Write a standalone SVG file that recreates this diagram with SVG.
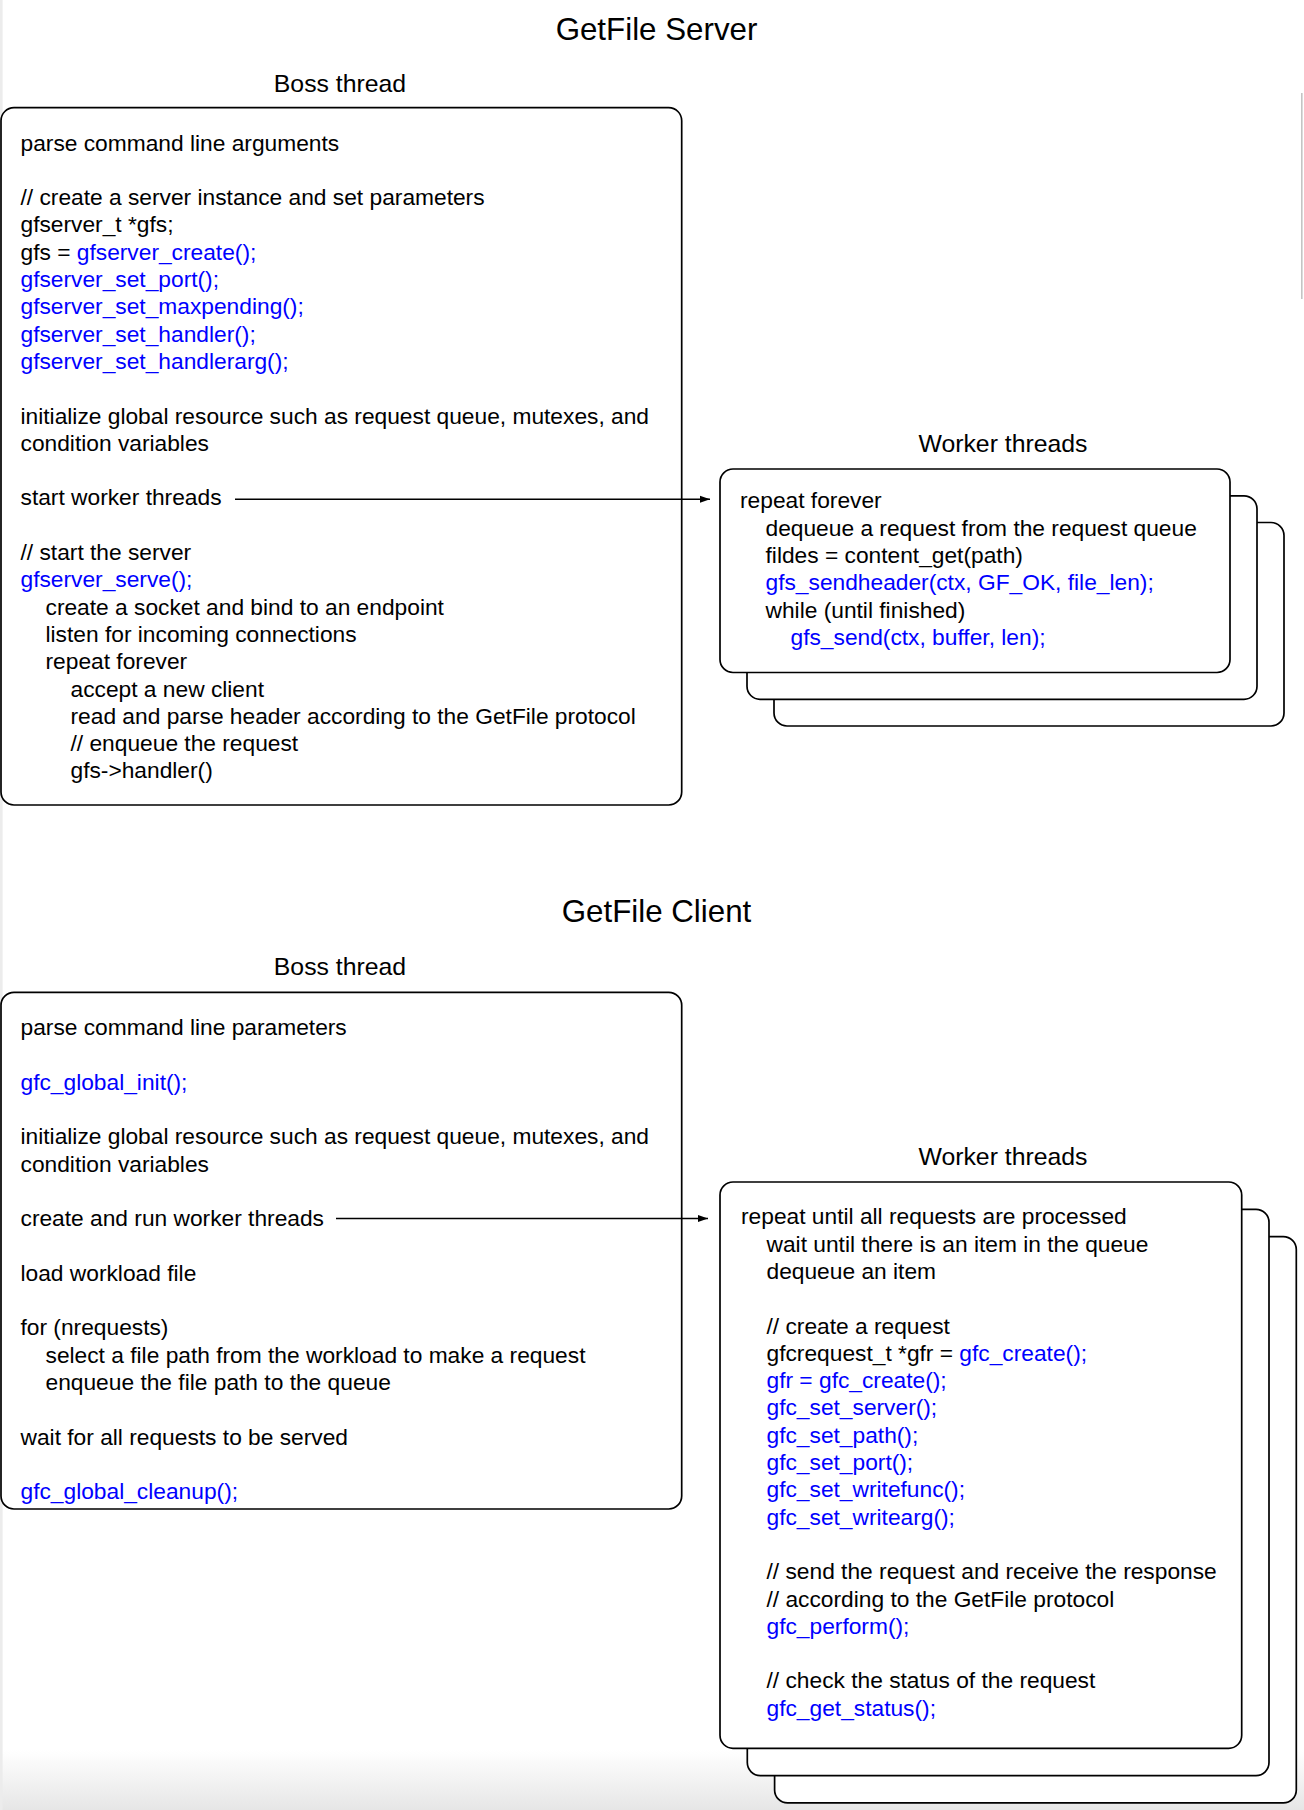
<svg xmlns="http://www.w3.org/2000/svg" width="1304" height="1810" viewBox="0 0 1304 1810">
<style>
text{font-family:"Liberation Sans",Arial,Helvetica,sans-serif;fill:#000}
.b{font-size:22.75px}
.h{font-size:24.8px;text-anchor:middle}
.t{font-size:31.3px;text-anchor:middle}
.k{fill:#0000ff}
.box{fill:#fff;stroke:#000;stroke-width:1.7}
.edge{stroke:#000;stroke-width:1.6;fill:none}
</style>
<defs>
<marker id="arr" markerWidth="10" markerHeight="8" refX="10" refY="4" orient="auto" markerUnits="userSpaceOnUse">
<path d="M0,0.5 L10,4 L0,7.5 Z" fill="#000"/>
</marker>
<linearGradient id="bot" x1="0" y1="0" x2="0" y2="1">
<stop offset="0" stop-color="#ffffff"/>
<stop offset="1" stop-color="#e6e6e6"/>
</linearGradient>
</defs>
<rect x="0" y="0" width="1304" height="1810" fill="#fff"/>
<rect x="0" y="1750" width="1304" height="60" fill="url(#bot)"/>
<rect x="0" y="0" width="2.6" height="1810" fill="#ececec"/>
<rect x="1301" y="93" width="1.6" height="206" fill="#c4c4c4"/>

<g id="server-title"><text class="t" x="656.5" y="40">GetFile Server</text></g>

<g id="server-boss">
<text class="h" x="340" y="91.7">Boss thread</text>
<rect class="box" x="1" y="107.7" width="680.7" height="697.3" rx="13"/>
<text class="b" x="20.5" y="150.5">parse command line arguments</text>
<text class="b" x="20.5" y="205.1">// create a server instance and set parameters</text>
<text class="b" x="20.5" y="232.4">gfserver_t *gfs;</text>
<text class="b" x="20.5" y="259.7">gfs = <tspan class="k">gfserver_create();</tspan></text>
<text class="b k" x="20.5" y="287">gfserver_set_port();</text>
<text class="b k" x="20.5" y="314.3">gfserver_set_maxpending();</text>
<text class="b k" x="20.5" y="341.6">gfserver_set_handler();</text>
<text class="b k" x="20.5" y="368.9">gfserver_set_handlerarg();</text>
<text class="b" x="20.5" y="423.5">initialize global resource such as request queue, mutexes, and</text>
<text class="b" x="20.5" y="450.8">condition variables</text>
<text class="b" x="20.5" y="505.4">start worker threads</text>
<text class="b" x="20.5" y="560">// start the server</text>
<text class="b k" x="20.5" y="587.3">gfserver_serve();</text>
<text class="b" x="45.5" y="614.6">create a socket and bind to an endpoint</text>
<text class="b" x="45.5" y="641.9">listen for incoming connections</text>
<text class="b" x="45.5" y="669.2">repeat forever</text>
<text class="b" x="70.5" y="696.5">accept a new client</text>
<text class="b" x="70.5" y="723.8">read and parse header according to the GetFile protocol</text>
<text class="b" x="70.5" y="751.1">// enqueue the request</text>
<text class="b" x="70.5" y="778.4">gfs-&gt;handler()</text>
</g>

<g id="server-workers">
<text class="h" x="1003" y="451.7">Worker threads</text>
<rect class="box" x="774" y="522.5" width="510" height="203.5" rx="13"/>
<rect class="box" x="747" y="495.8" width="510" height="203.5" rx="13"/>
<rect class="box" x="720" y="469" width="510" height="203.5" rx="13"/>
<text class="b" x="740" y="508.3">repeat forever</text>
<text class="b" x="765.5" y="535.6">dequeue a request from the request queue</text>
<text class="b" x="765.5" y="562.9">fildes = content_get(path)</text>
<text class="b k" x="765.5" y="590.2">gfs_sendheader(ctx, GF_OK, file_len);</text>
<text class="b" x="765.5" y="617.5">while (until finished)</text>
<text class="b k" x="790.5" y="644.8">gfs_send(ctx, buffer, len);</text>
</g>

<g id="client-title"><text class="t" x="656.5" y="922.3">GetFile Client</text></g>

<g id="client-boss">
<text class="h" x="340" y="975">Boss thread</text>
<rect class="box" x="1" y="992.3" width="680.7" height="516.7" rx="13"/>
<text class="b" x="20.5" y="1035">parse command line parameters</text>
<text class="b k" x="20.5" y="1089.6">gfc_global_init();</text>
<text class="b" x="20.5" y="1144.2">initialize global resource such as request queue, mutexes, and</text>
<text class="b" x="20.5" y="1171.5">condition variables</text>
<text class="b" x="20.5" y="1226.1">create and run worker threads</text>
<text class="b" x="20.5" y="1280.7">load workload file</text>
<text class="b" x="20.5" y="1335.3">for (nrequests)</text>
<text class="b" x="45.5" y="1362.6">select a file path from the workload to make a request</text>
<text class="b" x="45.5" y="1389.9">enqueue the file path to the queue</text>
<text class="b" x="20.5" y="1444.5">wait for all requests to be served</text>
<text class="b k" x="20.5" y="1499.1">gfc_global_cleanup();</text>
</g>

<g id="client-workers">
<text class="h" x="1003" y="1165">Worker threads</text>
<rect class="box" x="774.6" y="1236.6" width="521.7" height="566.3" rx="13"/>
<rect class="box" x="747.3" y="1209.3" width="521.7" height="566.3" rx="13"/>
<rect class="box" x="720" y="1182" width="521.7" height="566.3" rx="13"/>
<text class="b" x="741" y="1224.3">repeat until all requests are processed</text>
<text class="b" x="766.5" y="1251.6">wait until there is an item in the queue</text>
<text class="b" x="766.5" y="1278.9">dequeue an item</text>
<text class="b" x="766.5" y="1333.5">// create a request</text>
<text class="b" x="766.5" y="1360.8">gfcrequest_t *gfr = <tspan class="k">gfc_create();</tspan></text>
<text class="b k" x="766.5" y="1388.1">gfr = gfc_create();</text>
<text class="b k" x="766.5" y="1415.4">gfc_set_server();</text>
<text class="b k" x="766.5" y="1442.7">gfc_set_path();</text>
<text class="b k" x="766.5" y="1470">gfc_set_port();</text>
<text class="b k" x="766.5" y="1497.3">gfc_set_writefunc();</text>
<text class="b k" x="766.5" y="1524.6">gfc_set_writearg();</text>
<text class="b" x="766.5" y="1579.2">// send the request and receive the response</text>
<text class="b" x="766.5" y="1606.5">// according to the GetFile protocol</text>
<text class="b k" x="766.5" y="1633.8">gfc_perform();</text>
<text class="b" x="766.5" y="1688.4">// check the status of the request</text>
<text class="b k" x="766.5" y="1715.7">gfc_get_status();</text>
</g>

<g id="connectors">
<line class="edge" x1="235" y1="499.3" x2="710" y2="499.3" marker-end="url(#arr)"/>
<line class="edge" x1="336" y1="1218.5" x2="708" y2="1218.5" marker-end="url(#arr)"/>
</g>
</svg>
